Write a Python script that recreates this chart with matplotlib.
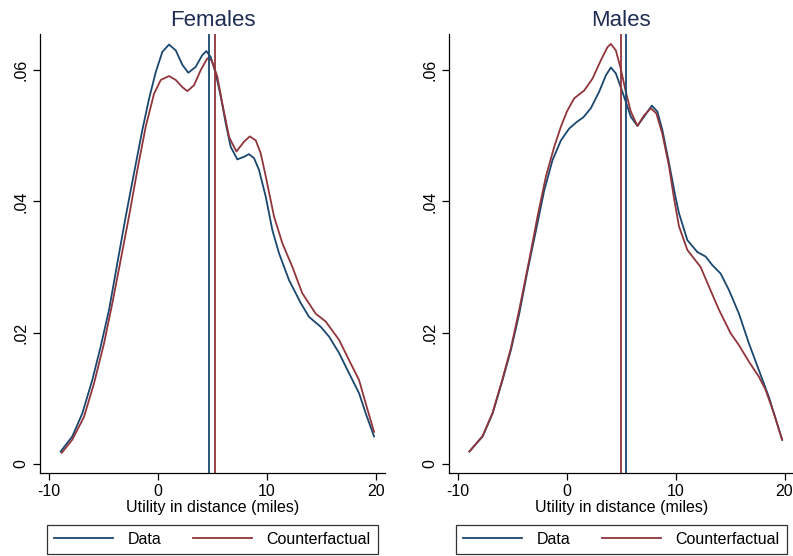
import numpy as np
import matplotlib
matplotlib.use("Agg")
import matplotlib.pyplot as plt

plt.rcParams['font.family'] = ['Liberation Sans', 'DejaVu Sans']

navy = '#1a476f'
maroon = '#90353b'
title_col = '#1e2c53'

# kernel densities as (x, density) pairs
fem_data_x = [-8.95, -7.88, -6.96, -6.04, -5.27, -4.5, -3.74, -2.97, -2.21, -1.44,
              -0.83, -0.21, 0.4, 1.01, 1.63, 2.24, 2.78, 3.46, 4.07, 4.44, 4.84,
              5.3, 5.76, 6.22, 6.68, 7.29, 7.9, 8.36, 8.82, 9.28, 9.9, 10.51,
              11.12, 12.04, 13.12, 13.88, 14.95, 15.72, 16.64, 17.56, 18.47,
              19.09, 19.85]
fem_data_y = [0.0019, 0.0042, 0.0077, 0.0128, 0.0179, 0.0235, 0.0306, 0.0377,
              0.0443, 0.0509, 0.0556, 0.0597, 0.0628, 0.0639, 0.0630, 0.0608,
              0.0596, 0.0605, 0.0623, 0.0629, 0.0620, 0.0595, 0.0560, 0.0519,
              0.0483, 0.0464, 0.0468, 0.0472, 0.0466, 0.0448, 0.0407, 0.0356,
              0.0321, 0.0280, 0.0245, 0.0224, 0.0209, 0.0194, 0.0169, 0.0138,
              0.0108, 0.0077, 0.0042]

fem_cf_x = [-8.85, -7.88, -6.8, -5.88, -4.96, -4.2, -3.43, -2.67, -1.9, -1.13,
            -0.37, 0.25, 1.01, 1.63, 2.24, 2.69, 3.31, 3.92, 4.53, 4.93, 5.45,
            5.91, 6.53, 7.2, 7.9, 8.43, 8.98, 9.44, 9.9, 10.66, 11.43, 12.35,
            13.26, 14.49, 15.41, 16.64, 17.56, 18.47, 19.09, 19.85]
fem_cf_y = [0.0017, 0.0037, 0.0072, 0.0123, 0.0184, 0.0245, 0.0311, 0.0377,
            0.0448, 0.0514, 0.0564, 0.0585, 0.0591, 0.0585, 0.0574, 0.0568,
            0.0577, 0.0600, 0.0618, 0.0615, 0.0590, 0.0549, 0.0498, 0.0476,
            0.0491, 0.0499, 0.0493, 0.0473, 0.0438, 0.0377, 0.0336, 0.0300,
            0.0260, 0.0229, 0.0217, 0.0189, 0.0158, 0.0128, 0.0092, 0.0049]

male_data_x = [-8.96, -7.74, -6.83, -5.91, -5.14, -4.38, -3.61, -2.84, -2.08,
               -1.32, -0.55, 0.21, 0.9, 1.5, 2.2, 2.96, 3.58, 4.04, 4.5, 4.95,
               5.41, 5.87, 6.48, 7.09, 7.8, 8.31, 8.77, 9.39, 10.0, 10.3, 11.07,
               11.98, 12.75, 13.36, 14.13, 14.89, 15.81, 16.72, 17.64, 18.56,
               19.78]
male_data_y = [0.0019, 0.0042, 0.0077, 0.0128, 0.0174, 0.0229, 0.0295, 0.0356,
               0.0417, 0.0463, 0.0493, 0.0511, 0.0521, 0.0528, 0.0542, 0.0567,
               0.0592, 0.0604, 0.0595, 0.0574, 0.0552, 0.0529, 0.0515, 0.0529,
               0.0546, 0.0537, 0.0509, 0.0458, 0.0405, 0.0382, 0.0341, 0.0323,
               0.0316, 0.0303, 0.0290, 0.0265, 0.0229, 0.0184, 0.0143, 0.0102,
               0.0037]

male_cf_x = [-8.96, -7.74, -6.83, -5.91, -5.14, -4.38, -3.46, -2.7, -1.93, -1.17,
             -0.55, 0.0, 0.67, 1.59, 2.35, 3.12, 3.73, 4.04, 4.5, 4.95, 5.41,
             5.87, 6.48, 7.09, 7.71, 8.22, 8.77, 9.39, 9.84, 10.3, 11.07, 12.29,
             13.06, 13.97, 15.05, 15.81, 16.72, 17.64, 18.26, 19.02, 19.78]
male_cf_y = [0.0019, 0.0043, 0.0078, 0.0130, 0.0177, 0.0235, 0.0311, 0.0377,
             0.0438, 0.0483, 0.0514, 0.0537, 0.0557, 0.0569, 0.0587, 0.0615,
             0.0635, 0.0640, 0.0630, 0.0602, 0.0567, 0.0537, 0.0515, 0.0531,
             0.0542, 0.0534, 0.0503, 0.0453, 0.0405, 0.0362, 0.0326, 0.0300,
             0.0270, 0.0235, 0.0199, 0.0181, 0.0156, 0.0133, 0.0113, 0.0077,
             0.0037]

# means of each distribution (vertical lines): data, counterfactual
fem_means = [4.69, 5.24]
male_means = [5.41, 4.98]

panels = [
    ("Females", fem_data_x, fem_data_y, fem_cf_x, fem_cf_y, fem_means, 0.0504),
    ("Males", male_data_x, male_data_y, male_cf_x, male_cf_y, male_means, 0.566),
]

fig = plt.figure(figsize=(7.93, 5.56), dpi=100)

for title, dx, dy, cx, cy, means, left in panels:
    ax = fig.add_axes([left, 0.1493, 0.435, 0.7895])
    ax.plot(dx, dy, color=navy, lw=1.3, label='Data', solid_joinstyle='round')
    ax.plot(cx, cy, color=maroon, lw=1.3, label='Counterfactual',
            solid_joinstyle='round')
    ax.axvline(means[0], color=navy, lw=1.3)
    ax.axvline(means[1], color=maroon, lw=1.3)

    ax.set_xlim(-10.85, 20.85)
    ax.set_ylim(-0.00137, 0.0655)
    ax.set_xticks([-10, 0, 10, 20])
    ax.set_xticklabels(['-10', '0', '10', '20'])
    ax.set_yticks([0, 0.02, 0.04, 0.06])
    ax.set_yticklabels(['0', '.02', '.04', '.06'], rotation=90, va='center')
    ax.tick_params(labelsize=11.5, length=5, width=0.9, colors='black', pad=3)
    for s in ['top', 'right']:
        ax.spines[s].set_visible(False)
    for s in ['left', 'bottom']:
        ax.spines[s].set_linewidth(0.9)

    ax.set_xlabel('Utility in distance (miles)', fontsize=11.5, labelpad=1)
    ax.set_title(title, fontsize=16, color=title_col, pad=6)

    leg = ax.legend(loc='upper center', bbox_to_anchor=(0.5, -0.118), ncol=2,
                    frameon=True, fancybox=False, fontsize=11.5, handlelength=3.7,
                    handletextpad=0.9, columnspacing=2.0, borderpad=0.45,
                    borderaxespad=0)
    leg.get_frame().set_edgecolor('black')
    leg.get_frame().set_linewidth(0.9)

fig.savefig('out.png', dpi=100, facecolor='white')
